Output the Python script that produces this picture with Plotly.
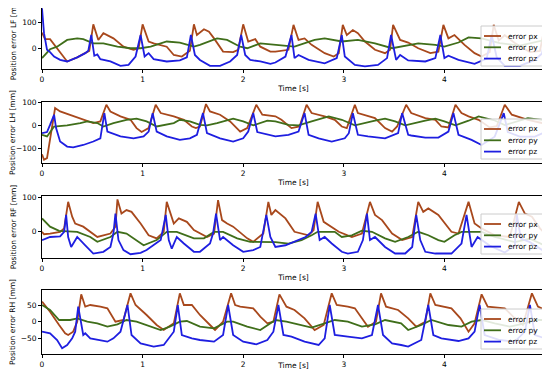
import plotly.graph_objects as go

# ---------------- data (time in s, error in mm) ----------------
LF_px_t = [0, 0.03, 0.08, 0.12, 0.25, 0.35, 0.43, 0.47, 0.51, 0.56, 0.61, 0.71, 0.81, 0.91, 0.96, 1.0, 1.06, 1.11, 1.24, 1.31, 1.39, 1.44, 1.47, 1.51, 1.54, 1.61, 1.66, 1.71, 1.77, 1.80, 1.90, 1.95, 2.0, 2.05, 2.12, 2.17, 2.27, 2.32, 2.45, 2.50, 2.55, 2.61, 2.68, 2.81, 2.90, 2.95, 2.99, 3.03, 3.09, 3.14, 3.21, 3.31, 3.41, 3.46, 3.49, 3.56, 3.64, 3.74, 3.86, 3.94, 3.99, 4.04, 4.10, 4.20, 4.30, 4.37, 4.45, 4.49, 4.54, 4.60, 4.70, 4.85, 4.95, 5.0]
LF_px = [60, 35, 35, 15, -51, -35, -19, -10, 92, 32, 58, 38, 6, -6, 0, 92, 26, 19, 6, -26, -32, -19, -10, 92, 51, 73, 64, 38, 6, -13, -15, -6, 92, 26, 35, 6, -13, -13, -6, 90, 32, 38, 13, -19, -32, -19, 90, 51, 70, 58, 26, -6, -19, -6, 90, 32, 22, 0, -19, -13, 90, 38, 51, 13, -19, -32, -15, 90, 30, 50, 20, -15, -10, 90]
LF_py_t = [0, 0.08, 0.15, 0.25, 0.35, 0.41, 0.51, 0.61, 0.75, 0.88, 0.98, 1.08, 1.24, 1.37, 1.51, 1.57, 1.74, 1.84, 1.97, 2.04, 2.17, 2.32, 2.51, 2.71, 2.81, 2.98, 3.14, 3.31, 3.48, 3.74, 3.91, 4.0, 4.14, 4.24, 4.37, 4.55, 4.75, 5.0]
LF_py = [-38, -4, 6, 32, 38, 35, 19, 19, 6, 0, 0, 6, 26, 22, 6, 13, 38, 32, 6, 0, 19, 13, 6, 32, 38, 26, 32, 19, 0, 19, 13, 6, 22, 42, 38, 20, 10, 32]
LF_pz_t = [0, 0.02, 0.05, 0.08, 0.12, 0.18, 0.25, 0.35, 0.43, 0.46, 0.49, 0.52, 0.55, 0.58, 0.68, 0.78, 0.86, 0.93, 0.98, 1.02, 1.06, 1.11, 1.24, 1.37, 1.44, 1.48, 1.52, 1.57, 1.67, 1.77, 1.87, 1.94, 1.98, 2.02, 2.07, 2.17, 2.27, 2.32, 2.42, 2.48, 2.51, 2.55, 2.65, 2.81, 2.93, 2.98, 3.01, 3.11, 3.21, 3.34, 3.43, 3.47, 3.52, 3.56, 3.64, 3.81, 3.91, 3.96, 4.0, 4.04, 4.14, 4.30, 4.42, 4.47, 4.52, 4.60, 4.75, 4.90, 4.97, 5.0]
LF_pz = [154, 58, -6, -15, -32, -45, -51, -35, -19, -10, 51, -29, -24, -42, -51, -68, -64, -32, 51, -32, -19, -42, -51, -47, -35, 51, -26, -45, -68, -68, -51, -26, 51, -26, -45, -51, -60, -55, -32, 51, -38, -26, -45, -58, -38, 51, -32, -64, -70, -64, -38, 51, -45, -26, -47, -51, -38, 51, -38, -29, -45, -60, -40, 51, -35, -68, -68, -45, -20, 40]

LH_px_t = [0, 0.02, 0.05, 0.10, 0.13, 0.18, 0.31, 0.41, 0.51, 0.58, 0.64, 0.68, 0.78, 0.88, 0.94, 0.99, 1.06, 1.13, 1.18, 1.31, 1.41, 1.49, 1.53, 1.57, 1.63, 1.67, 1.77, 1.87, 1.97, 2.04, 2.13, 2.19, 2.32, 2.38, 2.48, 2.56, 2.63, 2.68, 2.81, 2.91, 2.98, 3.03, 3.11, 3.14, 3.24, 3.31, 3.41, 3.48, 3.53, 3.62, 3.67, 3.81, 3.91, 3.97, 4.04, 4.11, 4.17, 4.24, 4.34, 4.45, 4.52, 4.60, 4.67, 4.83, 4.97, 5.0]
LH_px = [-126, -150, -143, -13, 74, 59, 38, 23, 9, 16, 88, 59, 38, 23, -13, -30, -13, 88, 52, 38, 23, -6, -13, -6, 91, 59, 45, 16, -28, -13, 88, 45, 38, 23, -13, -6, 88, 52, 38, 23, -6, -13, 88, 52, 38, 30, -13, -28, -6, 88, 52, 30, 23, -6, -10, 88, 52, 38, 23, -10, -5, 88, 45, 23, 9, 5]
LH_py_t = [0, 0.05, 0.12, 0.25, 0.38, 0.45, 0.55, 0.61, 0.71, 0.84, 0.94, 1.04, 1.14, 1.31, 1.37, 1.47, 1.57, 1.64, 1.74, 1.90, 2.0, 2.10, 2.24, 2.32, 2.45, 2.55, 2.68, 2.85, 2.98, 3.11, 3.31, 3.41, 3.51, 3.61, 3.81, 3.91, 4.0, 4.11, 4.24, 4.34, 4.50, 4.60, 4.83, 4.97, 5.0]
LH_py = [-42, -49, -6, -1, 9, 16, 9, -6, 9, 23, 28, 16, -6, 9, 23, 16, 1, -1, 9, 28, 16, -1, 19, 16, 1, -1, 16, 38, 23, -1, 19, 28, 16, -1, 19, 28, 16, -1, 19, 38, 20, 0, 30, 23, 16]
LH_pz_t = [0, 0.05, 0.08, 0.12, 0.14, 0.18, 0.25, 0.31, 0.41, 0.51, 0.58, 0.62, 0.65, 0.70, 0.78, 0.91, 1.01, 1.06, 1.10, 1.14, 1.24, 1.37, 1.47, 1.54, 1.60, 1.64, 1.77, 1.90, 2.0, 2.05, 2.10, 2.14, 2.24, 2.32, 2.45, 2.55, 2.61, 2.65, 2.75, 2.88, 3.01, 3.05, 3.09, 3.14, 3.24, 3.41, 3.54, 3.58, 3.64, 3.67, 3.81, 3.94, 4.04, 4.09, 4.14, 4.27, 4.37, 4.50, 4.59, 4.63, 4.75, 4.90, 5.0]
LH_pz = [-35, -30, 1, 45, -13, -71, -93, -96, -86, -71, -57, 52, -28, -35, -49, -57, -49, -28, 52, -28, -49, -64, -57, -42, 52, -35, -57, -71, -57, -28, 52, -30, -39, -49, -42, -28, 52, -42, -57, -71, -57, -35, 52, -42, -49, -57, -35, 52, -42, -45, -54, -54, -28, 52, -42, -64, -86, -50, 52, -30, -50, -50, -30]

RF_px_t = [0, 0.02, 0.08, 0.18, 0.22, 0.26, 0.30, 0.33, 0.41, 0.46, 0.55, 0.68, 0.73, 0.75, 0.79, 0.84, 0.89, 0.98, 1.06, 1.14, 1.21, 1.24, 1.31, 1.36, 1.44, 1.51, 1.64, 1.71, 1.75, 1.79, 1.84, 1.90, 2.04, 2.10, 2.20, 2.25, 2.28, 2.32, 2.42, 2.51, 2.65, 2.70, 2.74, 2.80, 2.85, 2.95, 3.08, 3.18, 3.26, 3.31, 3.38, 3.48, 3.58, 3.68, 3.74, 3.79, 3.84, 3.94, 4.07, 4.14, 4.24, 4.30, 4.37, 4.50, 4.65, 4.74, 4.80, 4.87, 4.95, 5.0]
RF_px = [0, -7, -5, 0, 10, 87, 44, 24, 15, 5, -15, -5, 15, 94, 53, 63, 58, 24, -10, -19, 0, 87, 24, 39, 29, 5, -15, -5, 92, 34, 24, 15, -19, -29, -5, 87, 49, 63, 39, 0, -10, 5, 87, 29, 19, 0, -15, -5, 87, 49, 34, -5, -24, -15, 87, 58, 68, 49, 0, -5, 87, 24, 10, -10, -15, 87, 53, 44, 10, -5]
RF_py_t = [0, 0.08, 0.17, 0.35, 0.48, 0.55, 0.68, 0.75, 0.84, 0.94, 1.01, 1.14, 1.24, 1.34, 1.51, 1.61, 1.71, 1.80, 1.94, 2.07, 2.20, 2.32, 2.45, 2.58, 2.68, 2.74, 2.91, 2.98, 3.08, 3.18, 3.28, 3.41, 3.51, 3.64, 3.74, 3.84, 3.94, 4.0, 4.10, 4.17, 4.37, 4.50, 4.70, 4.85, 5.0]
RF_py = [39, 15, 3, 0, -15, -29, -15, 0, -5, -24, -39, -24, 0, 0, -19, -19, 0, 0, -19, -29, -29, -30, -34, -24, -10, 0, 0, -15, -10, 3, 0, -19, -29, -15, 0, -10, -24, -29, -10, 0, 0, -15, -30, -20, -40]
RF_pz_t = [0, 0.08, 0.18, 0.22, 0.24, 0.26, 0.29, 0.35, 0.43, 0.51, 0.61, 0.68, 0.71, 0.73, 0.76, 0.81, 0.88, 0.98, 1.04, 1.18, 1.23, 1.26, 1.29, 1.34, 1.41, 1.51, 1.57, 1.67, 1.70, 1.73, 1.77, 1.80, 1.90, 2.0, 2.10, 2.17, 2.23, 2.27, 2.32, 2.42, 2.62, 2.68, 2.72, 2.76, 2.81, 2.88, 2.98, 3.04, 3.14, 3.19, 3.23, 3.26, 3.31, 3.41, 3.51, 3.61, 3.68, 3.72, 3.76, 3.81, 3.91, 4.07, 4.17, 4.22, 4.27, 4.33, 4.45, 4.60, 4.70, 4.72, 4.76, 4.85, 5.0]
RF_pz = [-24, -15, -13, 0, 49, -15, -44, -15, -39, -63, -58, -44, -5, 53, -24, -53, -65, -61, -53, -24, 49, -24, -49, -15, -34, -58, -58, -34, -5, 53, -24, -15, -39, -58, -53, -44, 49, -15, -44, -39, -15, 0, 53, -24, -15, -34, -58, -63, -58, -24, 53, -24, -15, -44, -63, -63, -44, 49, -24, -58, -63, -63, -34, 49, -44, -15, -40, -60, -40, 50, -20, -30, -58]

RH_px_t = [0, 0.08, 0.17, 0.23, 0.26, 0.31, 0.35, 0.39, 0.43, 0.48, 0.58, 0.65, 0.73, 0.81, 0.88, 0.93, 1.04, 1.14, 1.21, 1.31, 1.37, 1.41, 1.49, 1.57, 1.67, 1.72, 1.80, 1.88, 1.92, 1.97, 2.10, 2.17, 2.24, 2.30, 2.36, 2.43, 2.51, 2.61, 2.71, 2.80, 2.88, 2.93, 3.04, 3.11, 3.18, 3.24, 3.32, 3.37, 3.42, 3.54, 3.64, 3.72, 3.81, 3.86, 3.91, 4.07, 4.16, 4.24, 4.30, 4.37, 4.43, 4.60, 4.70, 4.78, 4.87, 4.93, 5.0]
RH_px = [60, 30, -10, -35, -40, -30, 0, 82, 45, 50, 45, 40, 0, 5, 85, 50, 20, -10, -25, -5, 85, 50, 50, 20, -10, -25, 0, 85, 50, 45, 40, 15, -5, 0, 82, 45, 35, 10, -25, -10, 85, 50, 45, 40, 10, -15, 0, 85, 45, 35, 10, -15, 0, 85, 50, 40, 10, -30, -5, 82, 45, 40, 10, -10, 85, 45, 35]
RH_py_t = [0, 0.08, 0.17, 0.28, 0.35, 0.45, 0.55, 0.65, 0.75, 0.84, 0.94, 1.04, 1.18, 1.27, 1.37, 1.44, 1.57, 1.71, 1.84, 1.90, 2.04, 2.17, 2.27, 2.32, 2.43, 2.58, 2.68, 2.81, 2.91, 3.04, 3.18, 3.31, 3.41, 3.57, 3.64, 3.77, 3.87, 4.04, 4.17, 4.27, 4.37, 4.50, 4.65, 4.80, 4.90, 5.0]
RH_py = [50, 35, 5, 5, 10, 0, -5, -15, -8, 5, 0, -10, -25, -15, 0, 2, -15, -20, 0, 0, -15, -25, -5, 5, 0, -10, -18, -5, 5, 0, -15, -8, 5, -5, -25, -10, 5, -10, -15, 0, 5, -5, -15, -5, 5, 5]
RH_pz_t = [0, 0.08, 0.15, 0.20, 0.25, 0.30, 0.33, 0.36, 0.41, 0.43, 0.48, 0.58, 0.65, 0.71, 0.78, 0.85, 0.89, 0.98, 1.11, 1.21, 1.31, 1.35, 1.39, 1.49, 1.57, 1.71, 1.80, 1.85, 1.90, 2.0, 2.13, 2.24, 2.30, 2.35, 2.40, 2.48, 2.61, 2.75, 2.81, 2.86, 2.91, 3.04, 3.18, 3.28, 3.34, 3.39, 3.48, 3.57, 3.64, 3.77, 3.84, 3.89, 3.97, 4.14, 4.24, 4.30, 4.35, 4.40, 4.55, 4.70, 4.80, 4.85, 4.90, 5.0]
RH_pz = [-30, -35, -55, -80, -70, -50, -30, 45, -40, -35, -50, -55, -60, -50, -30, 50, -40, -65, -75, -70, -30, 50, -40, -50, -55, -60, -40, 50, -40, -60, -68, -55, -30, 50, -40, -45, -60, -70, -50, 50, -40, -45, -50, -40, 50, -40, -65, -70, -75, -55, 50, -40, -50, -58, -50, -30, 50, -40, -55, -60, -30, 50, -40, -50]

x_ticks = [0, 1, 2, 3, 4, 5]
legs = ["LF", "LH", "RF", "RH"]
series = {
    "LF": [(LF_px_t, LF_px), (LF_py_t, LF_py), (LF_pz_t, LF_pz)],
    "LH": [(LH_px_t, LH_px), (LH_py_t, LH_py), (LH_pz_t, LH_pz)],
    "RF": [(RF_px_t, RF_px), (RF_py_t, RF_py), (RF_pz_t, RF_pz)],
    "RH": [(RH_px_t, RH_px), (RH_py_t, RH_py), (RH_pz_t, RH_pz)],
}
names = ["error px", "error py", "error pz"]
colors = ["#a8481c", "#3f6e1a", "#1e1ee0"]
y_ranges = [[-80, 155], [-164, 100], [-76, 104], [-97, 95]]
y_dtick = [100, 100, 100, 50]

# the page body has an 8px margin; keep the page from overflowing (no scrollbar)
OFF = 8
W, H = 550 - OFF, 378 - 2 * OFF
panels = [(8, 69), (102, 163), (196, 258), (290, 354)]   # top/bottom window px of each panel
legend_top_px = [26, 119, 214, 309]
x0_px, x1_px = 42, 545

fig = go.Figure()
font = dict(family="DejaVu Sans", size=7.5, color="black")
shapes, annotations = [], []

def px_x(x):
    return (x - OFF) / W

def px_y(y):
    return 1 - (y - OFF) / H

for i, leg in enumerate(legs):
    xa = "x" if i == 0 else f"x{i+1}"
    ya = "y" if i == 0 else f"y{i+1}"
    for (t, v), nm, c in zip(series[leg], names, colors):
        fig.add_trace(go.Scatter(x=t, y=v, mode="lines", name=nm,
                                 line=dict(color=c, width=1.8),
                                 xaxis=xa, yaxis=ya, showlegend=False))
    top, bot = panels[i]
    ax_common = dict(showline=True, linecolor="black", linewidth=0.8, mirror=True,
                     ticks="outside", ticklen=3, tickcolor="black", tickwidth=0.8,
                     showgrid=False, zeroline=False, tickfont=font, automargin=False,
                     ticklabeloverflow="allow")
    fig.layout[("xaxis" if i == 0 else f"xaxis{i+1}")] = dict(
        domain=[px_x(x0_px), px_x(x1_px)], range=[0, 5], tickvals=x_ticks,
        anchor=ya, title=dict(text="Time [s]", font=font, standoff=2), **ax_common)
    fig.layout[("yaxis" if i == 0 else f"yaxis{i+1}")] = dict(
        domain=[px_y(bot), px_y(top)], range=y_ranges[i], dtick=y_dtick[i], tick0=0,
        anchor=xa, title=dict(text=f"Position error {leg} [mm]", font=font, standoff=4),
        **ax_common)

    # legend box (matplotlib style)
    lt = legend_top_px[i]
    shapes.append(dict(type="rect", xref="paper", yref="paper",
                       x0=px_x(481), x1=px_x(546), y0=px_y(lt + 40), y1=px_y(lt),
                       line=dict(color="#cccccc", width=1),
                       fillcolor="rgba(255,255,255,0.85)", layer="above"))
    for k, (nm, c) in enumerate(zip(names, colors)):
        yy = lt + 10 + k * 11.3
        shapes.append(dict(type="line", xref="paper", yref="paper",
                           x0=px_x(484), x1=px_x(501), y0=px_y(yy), y1=px_y(yy),
                           line=dict(color=c, width=1.8), layer="above"))
        annotations.append(dict(text=nm, xref="paper", yref="paper",
                                x=px_x(506), y=px_y(yy), xanchor="left", yanchor="middle",
                                showarrow=False, font=font))

fig.update_layout(width=W, height=H,
                  margin=dict(l=0, r=0, t=0, b=0, autoexpand=False),
                  paper_bgcolor="white", plot_bgcolor="white",
                  font=font, showlegend=False, shapes=shapes, annotations=annotations)

fig.write_html("out.html")
